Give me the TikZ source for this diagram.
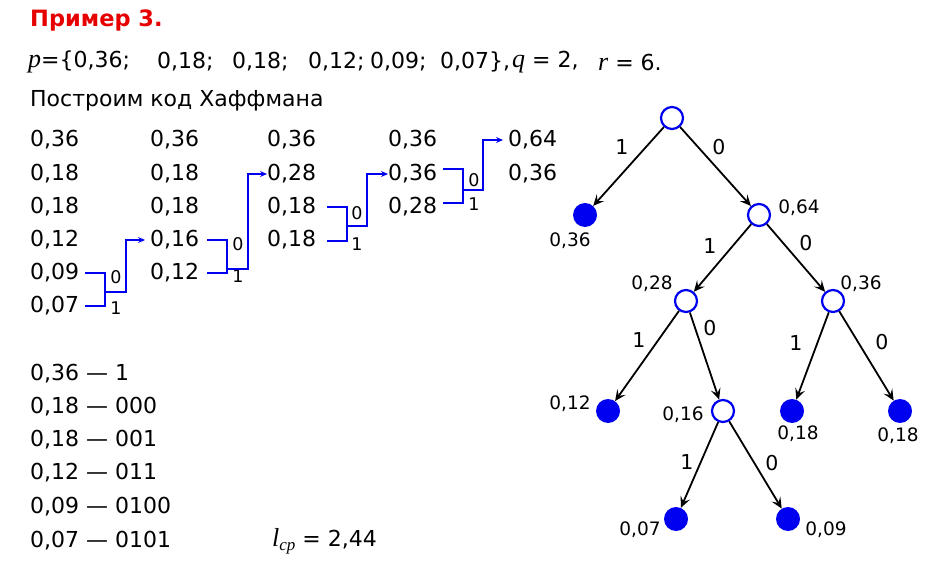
\documentclass[tikz,border=0pt]{standalone}
\usepackage{fontspec}
\setmainfont{DejaVu Sans}
\newfontfamily\serifit{Liberation Serif}
\usetikzlibrary{arrows.meta}
\definecolor{titlered}{RGB}{230,0,0}
\definecolor{pblue}{RGB}{0,0,240}
\newcommand{\vit}[1]{{\fontsize{26}{26}\selectfont\serifit\itshape #1}}
\begin{document}
\begin{tikzpicture}[x=1pt,y=-1pt,
  txt/.style={anchor=west,inner sep=0pt,font=\fontsize{22}{26}\selectfont},
  num/.style={anchor=west,inner sep=0pt,font=\fontsize{22}{26}\selectfont},
  bl/.style={inner sep=0pt,font=\fontsize{17.5}{20}\selectfont},
  el/.style={inner sep=0pt,font=\fontsize{20.5}{24}\selectfont},
  tl/.style={inner sep=0pt,font=\fontsize{18.5}{20}\selectfont},
  br/.style={pblue,line width=1.3pt},
  conn/.style={pblue,line width=2.2pt,-{Stealth[length=7pt,width=6pt,inset=2.5pt]}},
  opennode/.style={circle,draw=pblue,line width=2.2pt,fill=white,minimum size=22pt,inner sep=0pt},
  leafnode/.style={circle,fill=pblue,minimum size=24pt,inner sep=0pt},
  edge/.style={black,line width=1.8pt,-{Stealth[length=11pt,width=10pt,inset=4.5pt]}}
]
\useasboundingbox (0,0) rectangle (934,561);

% header
\node[txt,font=\fontsize{22.5}{26}\selectfont\bfseries,text=titlered] (title) at (30,20) {Пример 3.};
\node[txt] (p0) at (28,62) {\vit{p}=\{0,36;};
\node[txt] (p1) at (157,62) {0,18;};
\node[txt] (p2) at (232,62) {0,18;};
\node[txt] (p3) at (308,62) {0,12;};
\node[txt] (p4) at (370,62) {0,09;};
\node[txt] (p5) at (440,62) {0,07\},};
\node[txt] (p6) at (512,62) {\vit{q} = 2,};
\node[txt] (p7) at (598,62) {\vit{r} = 6.};
\node[txt] (build) at (30,101) {Построим код Хаффмана};

% column 1
\node[num] (a1) at (30,140) {0,36};
\node[num] (a2) at (30,174) {0,18};
\node[num] (a3) at (30,207) {0,18};
\node[num] (a4) at (30,240) {0,12};
\node[num] (a5) at (30,273) {0,09};
\node[num] (a6) at (30,306) {0,07};
% column 2
\node[num] (b1) at (150,140) {0,36};
\node[num] (b2) at (150,174) {0,18};
\node[num] (b3) at (150,207) {0,18};
\node[num] (b4) at (150,240) {0,16};
\node[num] (b5) at (150,273) {0,12};
% column 3
\node[num] (c1) at (267,140) {0,36};
\node[num] (c2) at (267,174) {0,28};
\node[num] (c3) at (267,207) {0,18};
\node[num] (c4) at (267,240) {0,18};
% column 4
\node[num] (d1) at (388,140) {0,36};
\node[num] (d2) at (388,174) {0,36};
\node[num] (d3) at (388,207) {0,28};
% column 5
\node[num] (e1) at (508,140) {0,64};
\node[num] (e2) at (508,174) {0,36};

% bracket 1
\draw[br] (85,273) -- (105,273) -- (105,306) -- (85,306);
\node[bl] (z1) at (116,277) {0};
\node[bl] (o1) at (116,308) {1};
\coordinate (m1) at (105,292);
\coordinate (k1) at (126,292);
\draw[conn] (m1) -- (k1) |- ([xshift=-5pt]b4.west);
% bracket 2
\draw[br] (207,240) -- (227,240) -- (227,273) -- (207,273);
\node[bl] (z2) at (238,244) {0};
\node[bl] (o2) at (238,276) {1};
\coordinate (m2) at (227,269);
\coordinate (k2) at (248,269);
\draw[conn] (m2) -- (k2) |- (c2.west);
% bracket 3
\draw[br] (327,207) -- (347,207) -- (347,241) -- (327,241);
\node[bl] (z3) at (357,213) {0};
\node[bl] (o3) at (357,244) {1};
\coordinate (m3) at (347,226);
\coordinate (k3) at (367,226);
\draw[conn] (m3) -- (k3) |- (d2.west);
% bracket 4
\draw[br] (443,169) -- (463,169) -- (463,203) -- (443,203);
\node[bl] (z4) at (474,180) {0};
\node[bl] (o4) at (474,204) {1};
\coordinate (m4) at (463,190);
\coordinate (k4) at (483,190);
\draw[conn] (m4) -- (k4) |- ([xshift=-5pt]e1.west);

% codes
\node[txt] (r1) at (30,374) {0,36 — 1};
\node[txt] (r2) at (30,407) {0,18 — 000};
\node[txt] (r3) at (30,440) {0,18 — 001};
\node[txt] (r4) at (30,473) {0,12 — 011};
\node[txt] (r5) at (30,507) {0,09 — 0100};
\node[txt] (r6) at (30,541) {0,07 — 0101};
\node[txt] (lcp) at (272,541) {\vit{l}\raisebox{-4pt}{\fontsize{17}{17}\selectfont\serifit\itshape cp} = 2,44};

% tree
\node[opennode] (root) at (672,118) {};
\node[leafnode] (l36) at (585,215) {};
\node[opennode] (n64) at (759,215) {};
\node[opennode] (n28) at (686,301) {};
\node[opennode] (n36) at (833,301) {};
\node[leafnode] (l12) at (608,411) {};
\node[opennode] (n16) at (723,411) {};
\node[leafnode] (l18a) at (792,411) {};
\node[leafnode] (l18b) at (900,411) {};
\node[leafnode] (l07) at (676,519) {};
\node[leafnode] (l09) at (788,519) {};

\node[tl] (t36) at (570,241) {0,36};
\node[tl] (t64) at (799,208) {0,64};
\node[tl] (t28) at (652,284) {0,28};
\node[tl] (t36b) at (861,284) {0,36};
\node[tl] (t12) at (570,404) {0,12};
\node[tl] (t16) at (683,415) {0,16};
\node[tl] (t18a) at (798,434) {0,18};
\node[tl] (t18b) at (898,436) {0,18};
\node[tl] (t07) at (640,530) {0,07};
\node[tl] (t09) at (826,530) {0,09};

\draw[edge] (root) -- (l36);
\draw[edge] (root) -- (n64);
\draw[edge] (n64) -- (n28);
\draw[edge] (n64) -- (n36);
\draw[edge] (n28) -- (l12);
\draw[edge] (n28) -- (n16);
\draw[edge] (n36) -- (l18a);
\draw[edge] (n36) -- (l18b);
\draw[edge] (n16) -- (l07);
\draw[edge] (n16) -- (l09);

\node[el] (e1a) at (622,147) {1};
\node[el] (e1b) at (719,147) {0};
\node[el] (e2a) at (710,246) {1};
\node[el] (e2b) at (806,243) {0};
\node[el] (e3a) at (639,340) {1};
\node[el] (e3b) at (710,328) {0};
\node[el] (e4a) at (796,343) {1};
\node[el] (e4b) at (882,342) {0};
\node[el] (e5a) at (687,462) {1};
\node[el] (e5b) at (772,463) {0};
\end{tikzpicture}
\end{document}
